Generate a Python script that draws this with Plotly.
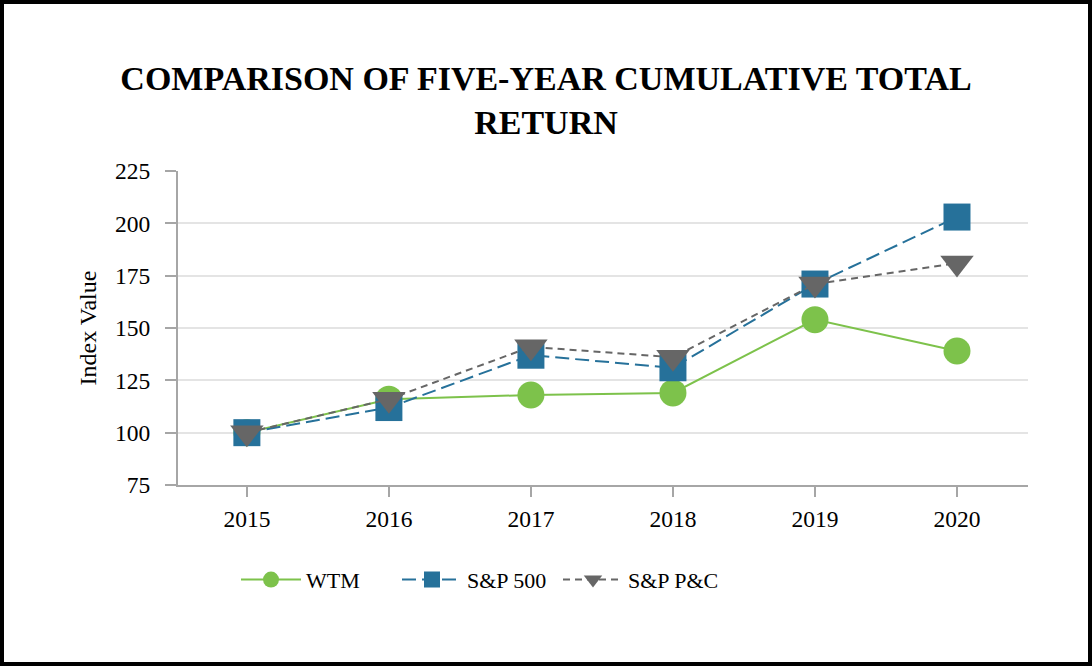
import plotly.graph_objects as go

# data
years = [2015, 2016, 2017, 2018, 2019, 2020]
wtm = [100, 116, 118, 119, 154, 139]
sp500 = [100, 112, 137, 131, 171, 203]
sp_pc = [100, 116, 141, 136, 171, 181]

y_ticks = [75, 100, 125, 150, 175, 200, 225]

W, H = 1092, 666
L, R, T, B = 178, 64, 171, 181
pw, ph = W - L - R, H - T - B

font = "Liberation Serif, Times New Roman, serif"

fig = go.Figure()

fig.add_trace(go.Scatter(
    x=years, y=wtm, name="WTM", mode="lines+markers",
    line=dict(color="#7dc24b", width=2),
    marker=dict(symbol="circle", size=27, color="#7dc24b")))

fig.add_trace(go.Scatter(
    x=years, y=sp500, name="S&P 500", mode="lines+markers",
    line=dict(color="#26719a", width=2, dash="14px,6px"),
    marker=dict(symbol="square", size=27, color="#26719a")))

fig.add_trace(go.Scatter(
    x=years, y=sp_pc, name="S&P P&C", mode="lines+markers",
    line=dict(color="#666666", width=2, dash="7px,5px"),
    marker=dict(symbol="triangle-down", size=29, color="#666666")))

fig.update_xaxes(
    range=[2014.515, 2020.5],
    tickvals=years,
    ticktext=[str(y) for y in years],
    showline=True, linecolor="#a6a6a6", linewidth=2,
    ticks="outside", ticklen=10, tickcolor="#a6a6a6", tickwidth=2,
    ticklabelstandoff=2,
    showgrid=False, zeroline=False,
    tickfont=dict(family=font, size=23.5, color="black"))

fig.update_yaxes(
    range=[75, 225],
    tickvals=y_ticks,
    showline=True, linecolor="#a6a6a6", linewidth=2,
    ticks="outside", ticklen=11, tickcolor="#a6a6a6", tickwidth=2,
    ticklabelstandoff=10,
    showgrid=True, gridcolor="#e4e4e4", gridwidth=2,
    zeroline=False,
    title=dict(text="Index Value", font=dict(family=font, size=24, color="black"), standoff=12),
    tickfont=dict(family=font, size=23.5, color="black"))

# black frame around the whole picture
fig.add_shape(
    type="rect", xref="paper", yref="paper",
    x0=(2 - L) / pw, x1=(W - 2 - L) / pw,
    y0=-(B - 2) / ph, y1=1 + (T - 2) / ph,
    line=dict(color="black", width=4), layer="above")

fig.update_layout(
    width=W, height=H,
    margin=dict(l=L, r=R, t=T, b=B, pad=0),
    plot_bgcolor="white", paper_bgcolor="white",
    title=dict(
        text="<b>COMPARISON OF FIVE-YEAR CUMULATIVE TOTAL<br>RETURN</b>",
        x=0.5, xanchor="center", y=0.865, yanchor="middle",
        font=dict(family=font, size=34, color="black")),
    legend=dict(
        orientation="h", x=(236 - L) / pw, xanchor="left", y=-0.235, yanchor="top",
        font=dict(family=font, size=22, color="black"),
        itemwidth=60, entrywidth=86, entrywidthmode="pixels",
        bgcolor="rgba(0,0,0,0)"),
    showlegend=True)

fig.write_html("out.html", config={"displayModeBar": False},
               post_script="document.body.style.margin='0';")
